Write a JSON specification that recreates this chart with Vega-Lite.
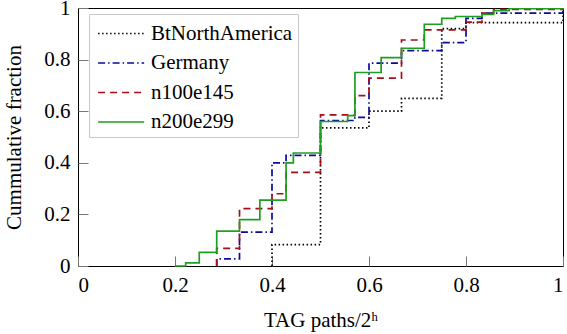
{
  "$schema": "https://vega.github.io/schema/vega-lite/v6.json",
  "width": 485,
  "height": 258,
  "autosize": {"type": "none"},
  "padding": {"left": 78, "top": 8, "right": 4, "bottom": 68},
  "background": "white",
  "config": {
    "font": "Liberation Serif, DejaVu Serif, serif",
    "view": {"stroke": "black", "strokeWidth": 1},
    "axis": {
      "labelFont": "Liberation Serif, DejaVu Serif, serif",
      "labelFontSize": 21,
      "labelColor": "black",
      "titleFont": "Liberation Serif, DejaVu Serif, serif",
      "titleFontSize": 21,
      "titleFontWeight": "normal",
      "titleColor": "black",
      "tickColor": "#777777",
      "tickSize": -10,
      "domain": false,
      "grid": false,
      "labelPadding": 18
    },
    "legend": {
      "title": null,
      "orient": "none",
      "legendX": 11,
      "legendY": 6,
      "symbolType": "M-0.77,0H2.64",
      "symbolSize": 729,
      "symbolStrokeWidth": 1.7,
      "symbolFillColor": "transparent",
      "labelFont": "Liberation Serif, DejaVu Serif, serif",
      "labelFontSize": 21,
      "labelColor": "black",
      "labelOffset": 28,
      "rowPadding": 4.5,
      "padding": 5,
      "strokeColor": "#c8c8c8",
      "fillColor": "white"
    }
  },
  "data": {
    "values": [
      {"series": "BtNorthAmerica", "x": 0.4, "y": 0},
      {"series": "BtNorthAmerica", "x": 0.4, "y": 0.083},
      {"series": "BtNorthAmerica", "x": 0.5, "y": 0.535},
      {"series": "BtNorthAmerica", "x": 0.6, "y": 0.6},
      {"series": "BtNorthAmerica", "x": 0.667, "y": 0.65},
      {"series": "BtNorthAmerica", "x": 0.75, "y": 0.92},
      {"series": "BtNorthAmerica", "x": 0.8, "y": 0.943},
      {"series": "BtNorthAmerica", "x": 1, "y": 1},
      {"series": "Germany", "x": 0.286, "y": 0},
      {"series": "Germany", "x": 0.286, "y": 0.028},
      {"series": "Germany", "x": 0.333, "y": 0.131},
      {"series": "Germany", "x": 0.4, "y": 0.4},
      {"series": "Germany", "x": 0.429, "y": 0.429},
      {"series": "Germany", "x": 0.5, "y": 0.564},
      {"series": "Germany", "x": 0.571, "y": 0.576},
      {"series": "Germany", "x": 0.6, "y": 0.786},
      {"series": "Germany", "x": 0.667, "y": 0.835},
      {"series": "Germany", "x": 0.75, "y": 0.866},
      {"series": "Germany", "x": 0.8, "y": 0.96},
      {"series": "Germany", "x": 0.833, "y": 0.98},
      {"series": "Germany", "x": 1, "y": 1},
      {"series": "n100e145", "x": 0.286, "y": 0},
      {"series": "n100e145", "x": 0.286, "y": 0.068},
      {"series": "n100e145", "x": 0.333, "y": 0.222},
      {"series": "n100e145", "x": 0.4, "y": 0.28},
      {"series": "n100e145", "x": 0.429, "y": 0.363},
      {"series": "n100e145", "x": 0.5, "y": 0.586},
      {"series": "n100e145", "x": 0.571, "y": 0.66},
      {"series": "n100e145", "x": 0.6, "y": 0.728},
      {"series": "n100e145", "x": 0.667, "y": 0.876},
      {"series": "n100e145", "x": 0.714, "y": 0.915},
      {"series": "n100e145", "x": 0.8, "y": 0.945},
      {"series": "n100e145", "x": 0.833, "y": 0.98},
      {"series": "n100e145", "x": 0.857, "y": 0.995},
      {"series": "n100e145", "x": 1, "y": 1},
      {"series": "n200e299", "x": 0.2, "y": 0},
      {"series": "n200e299", "x": 0.222, "y": 0.012},
      {"series": "n200e299", "x": 0.25, "y": 0.053},
      {"series": "n200e299", "x": 0.286, "y": 0.135},
      {"series": "n200e299", "x": 0.333, "y": 0.18},
      {"series": "n200e299", "x": 0.375, "y": 0.255},
      {"series": "n200e299", "x": 0.429, "y": 0.4},
      {"series": "n200e299", "x": 0.444, "y": 0.438},
      {"series": "n200e299", "x": 0.5, "y": 0.56},
      {"series": "n200e299", "x": 0.556, "y": 0.583},
      {"series": "n200e299", "x": 0.571, "y": 0.75},
      {"series": "n200e299", "x": 0.625, "y": 0.808},
      {"series": "n200e299", "x": 0.667, "y": 0.844},
      {"series": "n200e299", "x": 0.714, "y": 0.937},
      {"series": "n200e299", "x": 0.75, "y": 0.96},
      {"series": "n200e299", "x": 0.778, "y": 0.967},
      {"series": "n200e299", "x": 0.833, "y": 0.975},
      {"series": "n200e299", "x": 0.857, "y": 0.99},
      {"series": "n200e299", "x": 0.889, "y": 0.997},
      {"series": "n200e299", "x": 1, "y": 1}
    ]
  },
  "mark": {"type": "line", "interpolate": "step-after", "strokeWidth": 1.7},
  "encoding": {
    "x": {
      "field": "x",
      "type": "quantitative",
      "scale": {"domain": [0, 1], "nice": false},
      "axis": {
        "values": [0, 0.2, 0.4, 0.6, 0.8, 1],
        "format": ".1~f",
        "title": "TAG paths/2ʰ",
        "titlePadding": 14
      }
    },
    "y": {
      "field": "y",
      "type": "quantitative",
      "scale": {"domain": [0, 1], "nice": false},
      "axis": {
        "values": [0, 0.2, 0.4, 0.6, 0.8, 1],
        "format": ".1~f",
        "title": "Cummulative fraction",
        "titlePadding": 19
      }
    },
    "color": {
      "field": "series",
      "type": "nominal",
      "scale": {
        "domain": ["BtNorthAmerica", "Germany", "n100e145", "n200e299"],
        "range": ["#000000", "#0a0a9e", "#a50f15", "#1f9f1f"]
      },
      "legend": {"labelExpr": "datum.label + '   '"}
    },
    "strokeDash": {
      "field": "series",
      "type": "nominal",
      "scale": {
        "domain": ["BtNorthAmerica", "Germany", "n100e145", "n200e299"],
        "range": [[1.5, 2.5], [7, 3, 1.5, 3], [7, 5], [1, 0]]
      },
      "legend": {"labelExpr": "datum.label + '   '"}
    }
  }
}
